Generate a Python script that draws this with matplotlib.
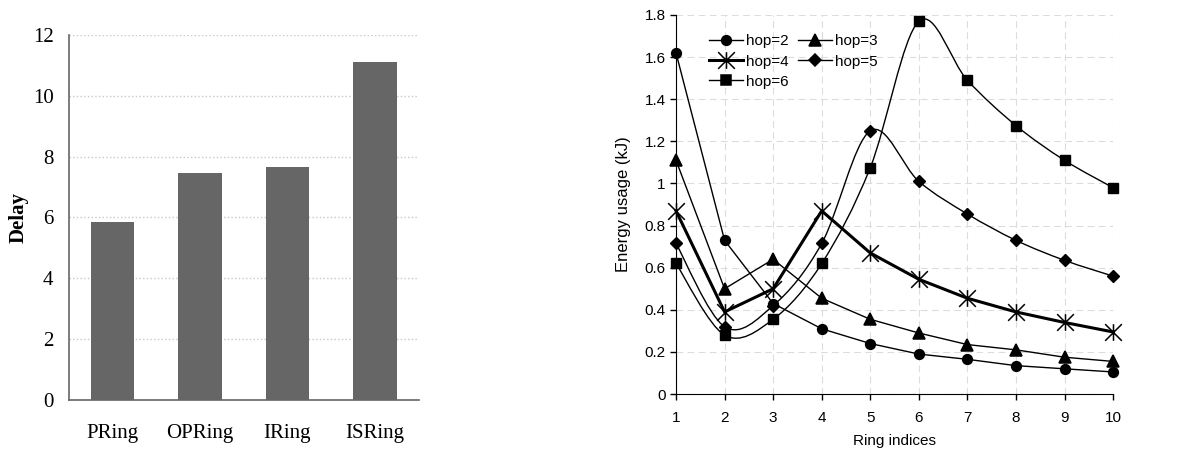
import numpy as np
import matplotlib.pyplot as plt
from matplotlib.path import Path
from matplotlib.patches import PathPatch
from matplotlib.lines import Line2D
from matplotlib.ticker import FormatStrFormatter

# datos grafica izquierda
schemes = ['PRing', 'OPRing', 'IRing', 'ISRing']
delay = [5.85, 7.45, 7.65, 11.1]

# datos grafica derecha
rings = [1, 2, 3, 4, 5, 6, 7, 8, 9, 10]
hop2 = [1.62, 0.73, 0.43, 0.31, 0.24, 0.19, 0.165, 0.135, 0.12, 0.105]
hop3 = [1.11, 0.50, 0.64, 0.455, 0.355, 0.29, 0.235, 0.21, 0.175, 0.155]
hop4 = [0.87, 0.39, 0.50, 0.87, 0.67, 0.545, 0.455, 0.39, 0.34, 0.295]
hop5 = [0.715, 0.32, 0.42, 0.715, 1.25, 1.01, 0.855, 0.73, 0.635, 0.56]
hop6 = [0.62, 0.28, 0.355, 0.62, 1.075, 1.77, 1.49, 1.275, 1.11, 0.98]

# marcador tipo asterisco (X con barra vertical)
star = Path([(0, -1), (0, 1), (-1, -1), (1, 1), (-1, 1), (1, -1)],
            [Path.MOVETO, Path.LINETO, Path.MOVETO, Path.LINETO, Path.MOVETO, Path.LINETO])


def smooth_path(x, y):
    # curva suavizada estilo Excel (bezier por tramos)
    x = np.asarray(x, float)
    y = np.asarray(y, float)
    n = len(x)
    verts = [(x[0], y[0])]
    codes = [Path.MOVETO]
    for i in range(n - 1):
        p0 = np.array([x[max(i - 1, 0)], y[max(i - 1, 0)]])
        p1 = np.array([x[i], y[i]])
        p2 = np.array([x[i + 1], y[i + 1]])
        p3 = np.array([x[min(i + 2, n - 1)], y[min(i + 2, n - 1)]])
        c1 = p1 + (p2 - p0) / 6
        c2 = p2 - (p3 - p1) / 6
        verts += [tuple(c1), tuple(c2), tuple(p2)]
        codes += [Path.CURVE4] * 3
    return Path(verts, codes)


fig = plt.figure(figsize=(11.86, 4.54), dpi=100)

# ---- grafica de barras ----
ax1 = fig.add_axes([0.058, 0.119, 0.295, 0.804])
pos = np.arange(len(schemes))
ax1.yaxis.grid(True, linestyle=':', color='#c8c8c8', linewidth=1)
ax1.set_axisbelow(True)
ax1.bar(pos, delay, width=0.5, color='#666666')
ax1.set_xlim(-0.5, 3.5)
ax1.set_ylim(0, 12)
ax1.set_yticks(range(0, 13, 2))
ax1.set_xticks(pos)
ax1.set_xticklabels(schemes)
for s in ['top', 'right']:
    ax1.spines[s].set_visible(False)
for s in ['left', 'bottom']:
    ax1.spines[s].set_color('#666666')
    ax1.spines[s].set_linewidth(1.2)
ax1.tick_params(length=0, labelsize=15, pad=11)
ax1.tick_params(axis='x', pad=17)
for lab in ax1.get_xticklabels() + ax1.get_yticklabels():
    lab.set_family('Liberation Serif')
ax1.set_ylabel('Delay', fontsize=15, fontweight='bold', family='Liberation Serif')
ax1.yaxis.set_label_coords(-0.115, 0.5)

# ---- grafica de lineas ----
ax2 = fig.add_axes([0.570, 0.132, 0.3685, 0.835])
ax2.grid(True, linestyle=(0, (6, 4)), color='#dcdcdc', linewidth=0.8)
ax2.set_axisbelow(True)

series = [
    ('hop=2', hop2, 'o', 7, 1.0, False),
    ('hop=3', hop3, '^', 8, 1.0, False),
    ('hop=4', hop4, star, 12, 2.2, False),
    ('hop=5', hop5, 'D', 6, 1.0, True),
    ('hop=6', hop6, 's', 7, 1.0, True),
]
handles = {}
for name, vals, mk, ms, lw, smooth in series:
    if smooth:
        ax2.add_patch(PathPatch(smooth_path(rings, vals), facecolor='none',
                                edgecolor='black', linewidth=lw, clip_on=False))
        ax2.plot(rings, vals, linestyle='none', marker=mk, markersize=ms,
                 color='black', markeredgewidth=1.0, clip_on=False)
    else:
        ax2.plot(rings, vals, color='black', linewidth=lw, marker=mk,
                 markersize=ms, markeredgewidth=1.1, clip_on=False)
    handles[name] = Line2D([], [], color='black', linewidth=lw, marker=mk,
                           markersize=ms, markeredgewidth=1.1)

order = ['hop=2', 'hop=4', 'hop=6', 'hop=3', 'hop=5']
ax2.legend([handles[k] for k in order], order, ncol=2, frameon=False,
           loc='upper left', bbox_to_anchor=(0.045, 0.985),
           handlelength=2.2, handletextpad=0.2, columnspacing=0.6, labelspacing=0.4,
           prop={'family': 'Liberation Sans', 'size': 11})

ax2.set_xlim(1, 10)
ax2.set_ylim(0, 1.8)
ax2.set_xticks(rings)
ax2.set_yticks(np.arange(0, 1.81, 0.2))
ax2.yaxis.set_major_formatter(FormatStrFormatter('%g'))
for s in ['top', 'right']:
    ax2.spines[s].set_visible(False)
ax2.tick_params(direction='out', length=4, labelsize=11, width=1)
ax2.tick_params(axis='x', pad=8)
for lab in ax2.get_xticklabels() + ax2.get_yticklabels():
    lab.set_family('Liberation Sans')
ax2.set_xlabel('Ring indices', fontsize=11, family='Liberation Sans', labelpad=7)
ax2.set_ylabel('Energy usage (kJ)', fontsize=12, family='Liberation Sans', labelpad=10)

fig.savefig('out.png', dpi=100)
